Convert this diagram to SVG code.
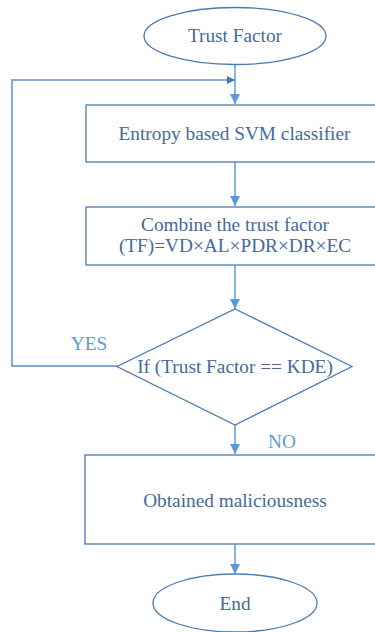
<svg xmlns="http://www.w3.org/2000/svg" width="375" height="632" viewBox="0 0 375 632">
  <style>
    .shape { fill: #ffffff; stroke: #4a7bb0; stroke-width: 1.3; }
    .label { font-size: 19.3px; fill: #45699a; text-anchor: middle; }
    .branch { font-size: 19.3px; fill: #5b9bd5; text-anchor: middle; }
    .link { fill: none; stroke: #5b9bd5; stroke-width: 1.5; }
  </style>
  <defs>
    <marker id="arrow" viewBox="0 0 10 10" refX="10" refY="5" markerWidth="10" markerHeight="10" markerUnits="userSpaceOnUse" orient="auto">
      <path d="M0,0 L10,5 L0,10 z" fill="#5b9bd5"/>
    </marker>
    <marker id="arrow2" viewBox="0 0 10 10" refX="10" refY="5" markerWidth="8" markerHeight="8" markerUnits="userSpaceOnUse" orient="auto">
      <path d="M0,0 L10,5 L0,10 z" fill="#4a7bb0"/>
    </marker>
  </defs>

  <g font-family="Liberation Serif, Times New Roman, serif">
  <g id="connectors">
    <line class="link" x1="235" y1="64" x2="235" y2="104" marker-end="url(#arrow)"/>
    <line class="link" x1="235" y1="162" x2="235" y2="206" marker-end="url(#arrow)"/>
    <line class="link" x1="235" y1="265" x2="235" y2="309" marker-end="url(#arrow)"/>
    <line class="link" x1="235" y1="425" x2="235" y2="454" marker-end="url(#arrow)"/>
    <line class="link" x1="235" y1="544" x2="235" y2="574" marker-end="url(#arrow)"/>
    <polyline class="link" points="117,366 12,366 12,80 235,80" style="stroke:#5b8fcc" marker-end="url(#arrow2)"/>
    <text class="branch" x="89" y="350">YES</text>
    <text class="branch" x="282" y="448">NO</text>
  </g>

  <g id="start">
    <ellipse class="shape" cx="235" cy="36" rx="91" ry="28.5"/>
    <text class="label" x="235" y="42">Trust Factor</text>
  </g>

  <g id="svm">
    <rect class="shape" x="86" y="105" width="300" height="57"/>
    <text class="label" x="234.5" y="140">Entropy based SVM classifier</text>
  </g>

  <g id="combine">
    <rect class="shape" x="86" y="207" width="300" height="58"/>
    <text class="label" x="235" y="231">Combine the trust factor</text>
    <text class="label" x="235" y="252">(TF)=VD×AL×PDR×DR×EC</text>
  </g>

  <g id="decision">
    <polygon class="shape" points="235,309 352,366.5 235,425 117,366.5"/>
    <text class="label" x="235" y="373">If (Trust Factor == KDE)</text>
  </g>

  <g id="result">
    <rect class="shape" x="85" y="455" width="300" height="89"/>
    <text class="label" x="235" y="507">Obtained maliciousness</text>
  </g>

  <g id="end">
    <ellipse class="shape" cx="235" cy="603" rx="82" ry="29"/>
    <text class="label" x="235" y="610">End</text>
  </g>
  </g>
</svg>
